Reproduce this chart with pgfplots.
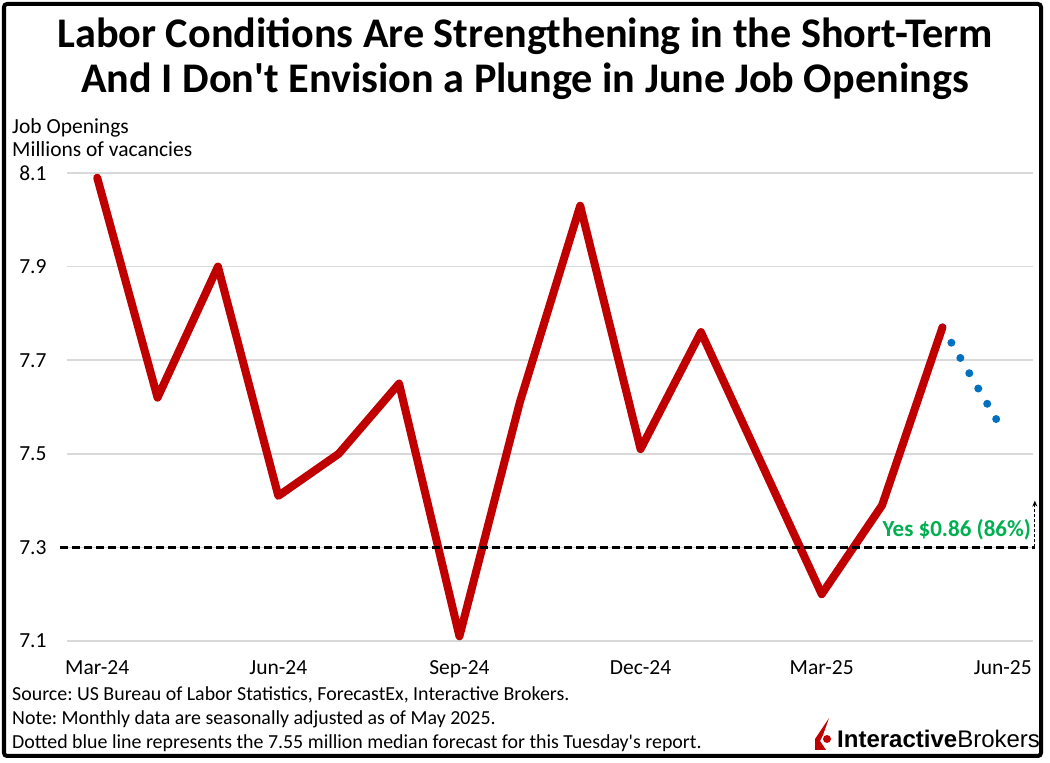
\documentclass[border=0pt]{standalone}
\usepackage{pgfplots}
\pgfplotsset{compat=1.18}
\usetikzlibrary{arrows.meta}
\usepackage{fontspec}
\setmainfont{Carlito}
\newfontfamily\rawcarlito{Carlito}
\newfontfamily\logofont{Liberation Sans}
\definecolor{ibred}{RGB}{192,0,0}
\definecolor{fcblue}{RGB}{0,112,192}
\definecolor{yesgreen}{RGB}{0,176,80}
\definecolor{gridgray}{RGB}{217,217,217}
\frenchspacing
\newcommand{\apos}{{\rawcarlito'}}

\begin{document}
\begin{tikzpicture}[x=1bp,y=1bp]
\path[use as bounding box] (0,0) rectangle (1050,763);
\draw[line width=4bp, rounded corners=3bp] (4,7) rectangle (1041,759);

% title
\node[font=\fontsize{42.2bp}{45bp}\selectfont\bfseries, align=center] at (525,704)
  {Labor Conditions Are Strengthening in the Short-Term\\And I Don\apos t Envision a Plunge in June Job Openings};

% y axis caption
\node[font=\fontsize{21.5bp}{24bp}\selectfont, anchor=base west, inner sep=0pt] at (12,629) {Job Openings};
\node[font=\fontsize{21.5bp}{24bp}\selectfont, anchor=base west, inner sep=0pt] at (12,606) {Millions of vacancies};

\begin{axis}[
  at={(67bp,122bp)}, anchor=south west,
  scale only axis, width=966bp, height=468bp,
  xmin=-0.5, xmax=15.5, ymin=7.1, ymax=8.1,
  xtick={0,3,6,9,12,15},
  xticklabels={Mar-24,Jun-24,Sep-24,Dec-24,Mar-25,Jun-25},
  ytick={7.1,7.3,7.5,7.7,7.9,8.1},
  yticklabels={7.1,7.3,7.5,7.7,7.9,8.1},
  ticklabel style={font=\fontsize{21.5bp}{24bp}\selectfont},
  yticklabel style={xshift=-17bp},
  xticklabel style={yshift=-16bp},
  axis line style={draw=none},
  major tick length=0pt,
  ymajorgrids, grid style={line width=1.5bp, gridgray},
  clip=false,
]
% forecast (dotted)
\addplot[fcblue, line width=8bp, line cap=round, dash pattern=on 0bp off 17.7bp]
  coordinates {(14,7.77) (15,7.55)};
% actual job openings
\addplot[ibred, line width=8bp, line join=round, line cap=round] coordinates {
  (0,8.09) (1,7.62) (2,7.90) (3,7.41) (4,7.50) (5,7.65) (6,7.11) (7,7.61)
  (8,8.03) (9,7.51) (10,7.76) (11,7.48) (12,7.20) (13,7.39) (14,7.77)};
% threshold line
\addplot[black, line width=3.5bp, dash pattern=on 8bp off 4bp]
  coordinates {(-0.61,7.3) (15.53,7.3)};
\addplot[black, line width=1.2bp, dash pattern=on 3bp off 2bp, -{Stealth[length=6bp,width=5bp]}]
  coordinates {(15.53,7.3) (15.53,7.40)};
\node[font=\fontsize{23bp}{26bp}\selectfont\bfseries, text=yesgreen, anchor=base east, inner sep=0pt]
  at (axis cs:15.47,7.3) [yshift=11bp] {Yes \$0.86 (86\%)};
\end{axis}

% notes
\node[font=\fontsize{19.9bp}{22bp}\selectfont, anchor=base west, inner sep=0pt] at (12,62)
  {Source: US Bureau of Labor Statistics, ForecastEx, Interactive Brokers.};
\node[font=\fontsize{19.9bp}{22bp}\selectfont, anchor=base west, inner sep=0pt] at (12,38)
  {Note: Monthly data are seasonally adjusted as of May 2025.};
\node[font=\fontsize{19.9bp}{22bp}\selectfont, anchor=base west, inner sep=0pt] at (12,14)
  {Dotted blue line represents the 7.55 million median forecast for this Tuesday\apos s report.};

% logo
\fill[ibred] (815,13) -- (815,24) -- (829,45) -- (823,28) -- (820,22) -- (826,13) -- cycle;
\fill[ibred] (827,24) circle (4);
\node[font=\logofont\fontsize{24bp}{26bp}\selectfont, anchor=base west, inner sep=0pt] at (837,15)
  {\textbf{Interactive}Brokers};
\end{tikzpicture}
\end{document}
